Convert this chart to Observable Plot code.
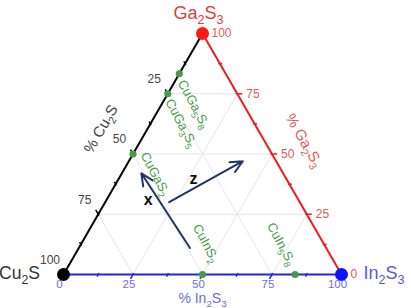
<!DOCTYPE html>
<html><head><meta charset="utf-8">
<script src="https://cdn.jsdelivr.net/npm/d3@7"></script>
<script src="https://cdn.jsdelivr.net/npm/@observablehq/plot@0.6"></script>
<style>body{margin:0;background:#fff}</style>
</head><body><div id="chart"></div>
<script>
// ---- data ----
const vertexNames = ["Cu_2S", "Ga_2S_3", "In_2S_3"];
const vertexGa = [0, 100, 0];
const vertexIn = [0, 0, 100];
const tickValues = [0, 25, 50, 75, 100];
const cuTickValues = [25, 50, 75, 100];
const minorTickValues = [12.5, 37.5, 62.5, 87.5];
const gridValues = [25, 50, 75];
const compoundNames = ["CuGa_5S_8", "CuGa_3S_5", "CuGaS_2", "CuInS_2", "CuIn_5S_8"];
const compoundGa = [83.3, 75, 50, 0, 0];
const compoundIn = [0, 0, 0, 50, 83.3];
const arrowNames = ["x", "z"];
const arrowStartGa = [11, 30], arrowStartIn = [40, 23];
const arrowEndGa = [42, 47], arrowEndIn = [7, 41];
const arrowLabelGa = [31, 39.5], arrowLabelIn = [15, 27];
const axisTitles = ["% Cu_2S", "% Ga_2S_3", "% In_2S_3"];

// ---- styles ----
const FONT = "Liberation Sans, Arial, Helvetica, sans-serif";
const vertexColors = ["#000000", "#ff1a1a", "#1010ff"];
const edgeColors = ["#000000", "#ee1c1c", "#2222ee"];
const labelColors = ["#444444", "#e35a5a", "#6d6dd8"];
const vertexLabelColors = ["#333333", "#e23c3c", "#5a5ad8"];
const green = "#4a9a4a";
const navy = "#1f3566";
const compoundOffsets = [[2, 7], [1, 6], [11, -1], [13, -13], [-3, -10]];
const compoundAnchors = ["start", "start", "start", "end", "end"];

// ---- ternary projection ----
const S = Math.sqrt(3) / 2;
const PX = 1 / 278; // one pixel in data units
const tx = (ga, inn) => (inn + ga / 2) / 100;
const ty = (ga) => ga / 100 * S;
const seg = (ga1, in1, ga2, in2) => ({x1: tx(ga1, in1), y1: ty(ga1), x2: tx(ga2, in2), y2: ty(ga2)});

// grid
const grid = [];
for (const v of gridValues) {
  grid.push(seg(v, 0, v, 100 - v));        // constant Ga
  grid.push(seg(0, v, 100 - v, v));        // constant In
  grid.push(seg(100 - v, 0, 0, 100 - v));  // constant Cu
}
// edges
const edges = [
  {...seg(0, 0, 100, 0), c: edgeColors[0]},
  {...seg(100, 0, 0, 100), c: edgeColors[1]},
  {...seg(0, 0, 0, 100), c: edgeColors[2]}
];
// tick points and outward directions (data units)
const cuPt = c => [tx(100 - c, 0), ty(100 - c)];
const gaPt = g => [tx(g, 100 - g), ty(g)];
const inPt = i => [tx(0, i), 0];
const dirs = [[-0.5, S], [1, 0], [-0.5, -S]];
const ptFns = [cuPt, gaPt, inPt];
const ticks = [];
[0, 1, 2].forEach(k => {
  const [dx, dy] = dirs[k];
  const add = (v, outL, inL) => {
    const [x, y] = ptFns[k](v);
    ticks.push({x1: x - dx * inL * PX, y1: y - dy * inL * PX, x2: x + dx * outL * PX, y2: y + dy * outL * PX, c: edgeColors[k]});
  };
  gridValues.forEach(v => add(v, 5, 1.5));
  minorTickValues.forEach(v => add(v, 2.5, 1.5));
});

const vertices = vertexNames.map((n, i) => ({n, x: tx(vertexGa[i], vertexIn[i]), y: ty(vertexGa[i]), c: vertexColors[i]}));
const compounds = compoundNames.map((n, i) => ({n, x: tx(compoundGa[i], compoundIn[i]), y: ty(compoundGa[i])}));
const arrows = arrowNames.map((n, i) => ({
  n, ...seg(arrowStartGa[i], arrowStartIn[i], arrowEndGa[i], arrowEndIn[i]),
  lx: tx(arrowLabelGa[i], arrowLabelIn[i]), ly: ty(arrowLabelGa[i])
}));

const cuLabels = cuTickValues.map(v => ({t: String(v), x: cuPt(v)[0], y: cuPt(v)[1]}));
const gaLabels = tickValues.map(v => ({t: String(v), x: gaPt(v)[0], y: gaPt(v)[1]}));
const inLabels = tickValues.map(v => ({t: String(v), x: inPt(v)[0], y: inPt(v)[1]}));

const txt = (data, o) => Plot.text(data, {x: "x", y: "y", text: "t", fontFamily: FONT, ...o});

const marks = [
  Plot.link(grid, {x1: "x1", y1: "y1", x2: "x2", y2: "y2", stroke: "#dedede", strokeWidth: 0.8}),
  Plot.link(edges, {x1: "x1", y1: "y1", x2: "x2", y2: "y2", stroke: "c", strokeWidth: 2}),
  Plot.link(ticks, {x1: "x1", y1: "y1", x2: "x2", y2: "y2", stroke: "c", strokeWidth: 1.5}),
  Plot.dot(vertices, {x: "x", y: "y", r: 6.5, fill: "c", stroke: "none"}),
  Plot.dot(compounds, {x: "x", y: "y", r: 3.6, fill: green}),
  Plot.arrow(arrows, {x1: "x1", y1: "y1", x2: "x2", y2: "y2", stroke: navy, strokeWidth: 2, headLength: 10, headAngle: 50}),
  Plot.text(arrows, {x: "lx", y: "ly", text: "n", fontSize: 16, fontWeight: "bold", fill: "#111", fontFamily: FONT}),
  txt(cuLabels, {fill: labelColors[0], fontSize: 12, dx: -13.5, dy: -14.5}),
  txt(gaLabels, {fill: labelColors[1], fontSize: 12, dx: 9, textAnchor: "start"}),
  txt(inLabels, {fill: labelColors[2], fontSize: 11.5, dx: -4, dy: 9.5}),
  // vertex labels
  Plot.text([vertices[0]], {x: "x", y: "y", text: "n", fill: vertexLabelColors[0], fontSize: 17.5, textAnchor: "end", dx: -23.5, dy: -1, fontFamily: FONT}),
  Plot.text([vertices[1]], {x: "x", y: "y", text: "n", fill: vertexLabelColors[1], fontSize: 18, dx: -4, dy: -20, fontFamily: FONT}),
  Plot.text([vertices[2]], {x: "x", y: "y", text: "n", fill: vertexLabelColors[2], fontSize: 18, textAnchor: "start", dx: 22, dy: -1, fontFamily: FONT}),
  // axis titles
  Plot.text([{t: axisTitles[0], x: cuPt(50)[0], y: cuPt(50)[1]}], {x: "x", y: "y", text: "t", rotate: -60, fill: labelColors[0], fontSize: 15, dx: -32, dy: -25, fontFamily: FONT}),
  Plot.text([{t: axisTitles[1], x: gaPt(50)[0], y: gaPt(50)[1]}], {x: "x", y: "y", text: "t", rotate: 60, fill: labelColors[1], fontSize: 15, dx: 32, dy: -13.5, fontFamily: FONT}),
  Plot.text([{t: axisTitles[2], x: inPt(50)[0], y: inPt(50)[1]}], {x: "x", y: "y", text: "t", fill: labelColors[2], fontSize: 14, dx: 0, dy: 24, fontFamily: FONT}),
  // compound labels
  ...compounds.map((d, i) => Plot.text([d], {x: "x", y: "y", text: "n", rotate: 62, fill: green, fontSize: 13, textAnchor: compoundAnchors[i], dx: compoundOffsets[i][0], dy: compoundOffsets[i][1], fontFamily: FONT}))
];

const chart = Plot.plot({
  width: 411, height: 308,
  marginLeft: 63, marginRight: 70, marginTop: 33, marginBottom: 34,
  x: {domain: [0, 1], axis: null},
  y: {domain: [0, S], axis: null},
  style: {background: "white", fontFamily: FONT, overflow: "visible"},
  marks
});
document.getElementById("chart").appendChild(chart);

// subscripts: "_d" -> subscript tspan
const ns = "http://www.w3.org/2000/svg";
chart.querySelectorAll("text").forEach(el => {
  const s = el.textContent;
  if (!s.includes("_")) return;
  const fs = parseFloat(getComputedStyle(el).fontSize) || 12;
  const shift = fs * 0.27;
  while (el.firstChild) el.removeChild(el.firstChild);
  const parts = [];
  let i = 0;
  while (i < s.length) {
    if (s[i] === "_") { parts.push({t: s[i + 1], sub: true}); i += 2; }
    else {
      let run = "";
      while (i < s.length && s[i] !== "_") run += s[i++];
      parts.push({t: run, sub: false});
    }
  }
  let prevSub = false;
  for (const p of parts) {
    const t = document.createElementNS(ns, "tspan");
    t.textContent = p.t;
    if (p.sub) {
      t.setAttribute("font-size", (fs * 0.7) + "px");
      if (!prevSub) t.setAttribute("dy", shift);
    } else if (prevSub) {
      t.setAttribute("dy", -shift);
    }
    el.appendChild(t);
    prevSub = p.sub;
  }
});
</script>
</body></html>
